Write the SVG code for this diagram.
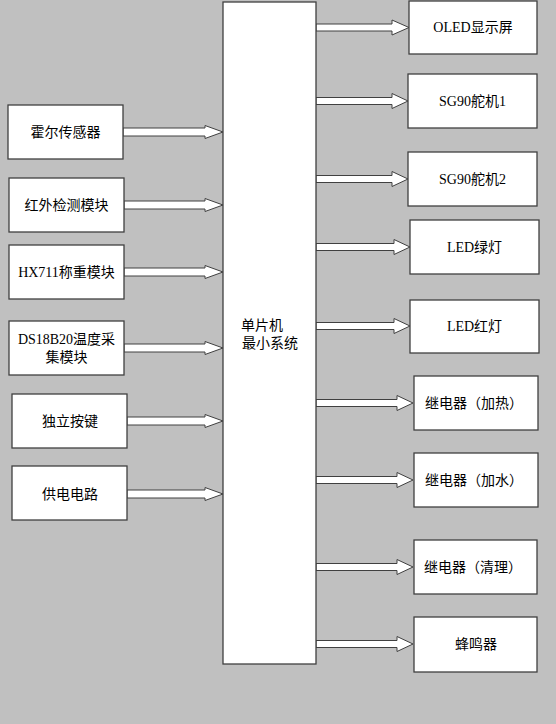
<svg xmlns="http://www.w3.org/2000/svg" width="556" height="724" viewBox="0 0 556 724">
<style>
.box{fill:#fff;stroke:#404040;stroke-width:1.3}
.arr{fill:#fff;stroke:#404040;stroke-width:1}
text{font-family:"Liberation Serif","Noto Sans CJK SC",serif;font-size:14px;fill:#000;text-anchor:middle;dominant-baseline:central}
</style>
<rect width="556" height="724" fill="#c0c0c0"/>
<g id="connectors">
<polygon class="arr" points="123,128 205,128 205,125.5 223,132 205,138.5 205,136 123,136"/>
<polygon class="arr" points="124,201 205,201 205,198.5 223,205 205,211.5 205,209 124,209"/>
<polygon class="arr" points="124,268 205,268 205,265.5 223,272 205,278.5 205,276 124,276"/>
<polygon class="arr" points="124,344 205,344 205,341.5 223,348 205,354.5 205,352 124,352"/>
<polygon class="arr" points="127,417 205,417 205,414.5 223,421 205,427.5 205,425 127,425"/>
<polygon class="arr" points="127,490 205,490 205,487.5 223,494 205,500.5 205,498 127,498"/>
<polygon class="arr" points="316,24 392,24 392,20 409,27.5 392,35 392,31 316,31"/>
<polygon class="arr" points="316,97.5 392,97.5 392,93.5 408,101 392,108.5 392,104.5 316,104.5"/>
<polygon class="arr" points="316,175.5 392,175.5 392,171.5 408,179 392,186.5 392,182.5 316,182.5"/>
<polygon class="arr" points="316,243.5 394,243.5 394,239.5 410,247 394,254.5 394,250.5 316,250.5"/>
<polygon class="arr" points="316,322.5 394,322.5 394,318.5 410,326 394,333.5 394,329.5 316,329.5"/>
<polygon class="arr" points="316,399.5 397,399.5 397,395.5 413,403 397,410.5 397,406.5 316,406.5"/>
<polygon class="arr" points="316,476.5 397,476.5 397,472.5 413,480 397,487.5 397,483.5 316,483.5"/>
<polygon class="arr" points="316,563.5 397,563.5 397,559.5 413,567 397,574.5 397,570.5 316,570.5"/>
<polygon class="arr" points="316,640.5 397,640.5 397,636.5 413,644 397,651.5 397,647.5 316,647.5"/>
</g>
<g id="mcu"><rect class="box" x="223" y="2" width="93" height="662"/><text x="262" y="325">单片机</text><text x="270" y="343">最小系统</text></g>
<g id="hall"><rect class="box" x="8" y="105" width="115" height="54"/><text x="65.5" y="132">霍尔传感器</text></g>
<g id="ir"><rect class="box" x="9" y="178" width="115" height="54"/><text x="66.5" y="205">红外检测模块</text></g>
<g id="hx711"><rect class="box" x="9" y="245" width="115" height="54"/><text x="66.5" y="272">HX711称重模块</text></g>
<g id="ds18b20"><rect class="box" x="9" y="321" width="115" height="54"/><text x="66.5" y="339">DS18B20温度采</text><text x="66.5" y="357">集模块</text></g>
<g id="key"><rect class="box" x="12" y="394" width="115" height="54"/><text x="70" y="421">独立按键</text></g>
<g id="power"><rect class="box" x="12" y="466" width="115" height="54"/><text x="70" y="494">供电电路</text></g>
<g id="oled"><rect class="box" x="409" y="1" width="128" height="53"/><text x="473" y="27.5">OLED显示屏</text></g>
<g id="sg1"><rect class="box" x="408" y="74" width="129" height="54"/><text x="472.5" y="101">SG90舵机1</text></g>
<g id="sg2"><rect class="box" x="408" y="152" width="129" height="54"/><text x="472.5" y="179">SG90舵机2</text></g>
<g id="ledg"><rect class="box" x="410" y="220" width="129" height="54"/><text x="474.5" y="247">LED绿灯</text></g>
<g id="ledr"><rect class="box" x="410" y="300" width="129" height="53"/><text x="474.5" y="326">LED红灯</text></g>
<g id="relay1"><rect class="box" x="414" y="376" width="124" height="54"/><text x="474" y="403">继电器（加热）</text></g>
<g id="relay2"><rect class="box" x="414" y="453" width="124" height="54"/><text x="474" y="480">继电器（加水）</text></g>
<g id="relay3"><rect class="box" x="414" y="540" width="123" height="54"/><text x="473" y="567">继电器（清理）</text></g>
<g id="buzzer"><rect class="box" x="414" y="617" width="123" height="55"/><text x="476" y="644">蜂鸣器</text></g>
</svg>
